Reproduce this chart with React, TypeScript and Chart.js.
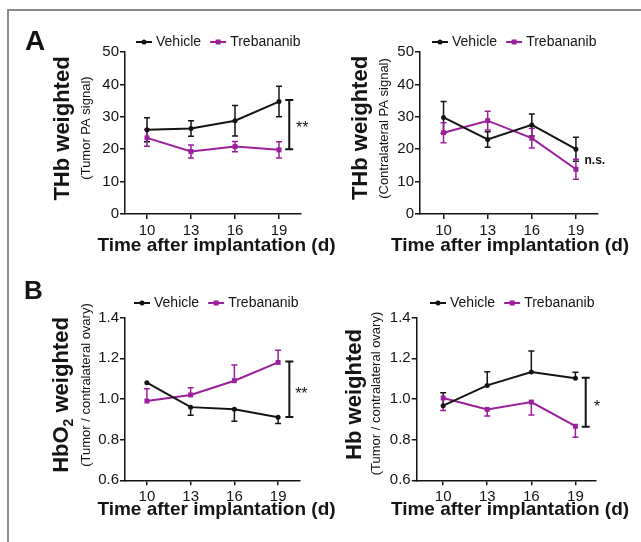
import React, { useEffect, useRef } from "react";
import { Chart, registerables } from "chart.js";
Chart.register(...registerables);

const FONT = '"Liberation Sans", Arial, Helvetica, sans-serif';
const BLACK = "#141414";
const PURPLE = "#9b1f9b";
const W = 641;
const H = 542;

// ---- data ----
const days = [10, 13, 16, 19];
const xTickValues = [10, 13, 16, 19];
const thbTickValues = [0, 10, 20, 30, 40, 50];
const ratioTickValues = [0.6, 0.8, 1.0, 1.2, 1.4];
const seriesNames = ["Vehicle", "Trebananib"];
const xAxisTitle = "Time after implantation (d)";

// A left: THb weighted (Tumor PA signal)
const thbTumorVehicle = [26.0, 26.4, 28.8, 34.7];
const thbTumorVehicleErr = [3.7, 2.4, 4.7, 4.7];
const thbTumorTreb = [23.5, 19.3, 20.8, 19.8];
const thbTumorTrebErr = [2.6, 2.0, 1.6, 2.5];

// A right: THb weighted (Contralateral PA signal)
const thbContraVehicle = [29.8, 23.0, 27.5, 20.0];
const thbContraVehicleErr = [4.9, 2.4, 3.4, 3.7];
const thbContraTreb = [25.1, 28.8, 23.4, 13.8];
const thbContraTrebErr = [3.1, 2.9, 3.0, 3.1];

// B left: HbO2 weighted (Tumor / contralateral ovary)
const hbo2Vehicle = [1.08, 0.96, 0.95, 0.91];
const hbo2VehicleErrDown = [0, 0.04, 0.06, 0.03];
const hbo2Treb = [0.99, 1.02, 1.09, 1.18];
const hbo2TrebErrUp = [0.06, 0.035, 0.077, 0.06];

// B right: Hb weighted (Tumor / contralateral ovary)
const hbVehicle = [0.967, 1.067, 1.133, 1.102];
const hbVehicleErrUp = [0.064, 0.067, 0.103, 0.03];
const hbTreb = [1.005, 0.949, 0.985, 0.866];
const hbTrebErrDown = [0.062, 0.033, 0.064, 0.054];

const zeros = [0, 0, 0, 0];

type Panel = {
  plot: { left: number; top: number; right: number; bottom: number };
  xMin: number;
  xMax: number;
  yTicks: number[];
  yDecimals: number;
  vehicle: number[];
  vehicleUp: number[];
  vehicleDown: number[];
  treb: number[];
  trebUp: number[];
  trebDown: number[];
  yTitle: string[]; // [main, subscript, rest]
  yTitleX: number;
  yTitleY: number;
  ySub: string;
  ySubX: number;
  ySubY: number;
  xTitleX: number;
  xTitleY: number;
  legendX: number;
  legendY: number;
  bracket?: { x: number; y1: number; y2: number };
  mark: { text: string; dx: number; y: number; size: number; bold: boolean; star: boolean };
  panelLabel?: { text: string; x: number; y: number; size: number };
};

const panels: Panel[] = [
  {
    plot: { left: 125, top: 52, right: 301, bottom: 214 },
    xMin: 8.5, xMax: 20.5, yTicks: thbTickValues, yDecimals: 0,
    vehicle: thbTumorVehicle, vehicleUp: thbTumorVehicleErr, vehicleDown: thbTumorVehicleErr,
    treb: thbTumorTreb, trebUp: thbTumorTrebErr, trebDown: thbTumorTrebErr,
    yTitle: ["THb weighted", "", ""], yTitleX: 69, yTitleY: 128.5,
    ySub: "(Tumor PA signal)", ySubX: 89.5, ySubY: 128,
    xTitleX: 216.5, xTitleY: 245.5, legendX: 136, legendY: 42,
    bracket: { x: 19.7, y1: 20, y2: 35.2 },
    mark: { text: "**", dx: 17, y: 27.9, size: 16, bold: false, star: true },
    panelLabel: { text: "A", x: 25, y: 50, size: 28 },
  },
  {
    plot: { left: 420, top: 52, right: 598, bottom: 214 },
    xMin: 8.4, xMax: 20.5, yTicks: thbTickValues, yDecimals: 0,
    vehicle: thbContraVehicle, vehicleUp: thbContraVehicleErr, vehicleDown: thbContraVehicleErr,
    treb: thbContraTreb, trebUp: thbContraTrebErr, trebDown: thbContraTrebErr,
    yTitle: ["THb weighted", "", ""], yTitleX: 367, yTitleY: 128,
    ySub: "(Contralateral PA signal)", ySubX: 388, ySubY: 128.5,
    xTitleX: 510, xTitleY: 245.5, legendX: 432, legendY: 42,
    mark: { text: "n.s.", dx: 8.6, y: 15.4, size: 12, bold: true, star: false },
  },
  {
    plot: { left: 125, top: 317.7, right: 300, bottom: 480.3 },
    xMin: 8.5, xMax: 20.5, yTicks: ratioTickValues, yDecimals: 1,
    vehicle: hbo2Vehicle, vehicleUp: zeros, vehicleDown: hbo2VehicleErrDown,
    treb: hbo2Treb, trebUp: hbo2TrebErrUp, trebDown: zeros,
    yTitle: ["HbO", "2", " weighted"], yTitleX: 68, yTitleY: 395,
    ySub: "(Tumor / contralateral ovary)", ySubX: 89.5, ySubY: 385,
    xTitleX: 216.5, xTitleY: 509.5, legendX: 134, legendY: 303,
    bracket: { x: 19.77, y1: 0.912, y2: 1.184 },
    mark: { text: "**", dx: 17, y: 1.049, size: 16, bold: false, star: true },
    panelLabel: { text: "B", x: 24, y: 299, size: 26 },
  },
  {
    plot: { left: 416.7, top: 317.7, right: 596, bottom: 480.3 },
    xMin: 8.2, xMax: 20.4, yTicks: ratioTickValues, yDecimals: 1,
    vehicle: hbVehicle, vehicleUp: hbVehicleErrUp, vehicleDown: zeros,
    treb: hbTreb, trebUp: zeros, trebDown: hbTrebErrDown,
    yTitle: ["Hb weighted", "", ""], yTitleX: 361, yTitleY: 394.5,
    ySub: "(Tumor / contralateral ovary)", ySubX: 379.5, ySubY: 393.5,
    xTitleX: 510, xTitleY: 509.5, legendX: 430, legendY: 303,
    bracket: { x: 19.7, y1: 0.864, y2: 1.105 },
    mark: { text: "*", dx: 18.5, y: 0.984, size: 16, bold: false, star: true },
  },
];

function makePlugin(p: Panel) {
  return {
    id: "panelDecor",
    beforeDatasetsDraw(chart: any) {
      const ctx = chart.ctx;
      const xs = chart.scales.x;
      const ys = chart.scales.y;
      ctx.save();
      chart.data.datasets.forEach((ds: any) => {
        ctx.strokeStyle = ds.borderColor;
        ctx.lineWidth = 1.5;
        ds.data.forEach((pt: any, i: number) => {
          const px = xs.getPixelForValue(pt.x);
          const py = ys.getPixelForValue(pt.y);
          const up = ds.errUp[i];
          const dn = ds.errDown[i];
          ctx.beginPath();
          if (up > 0) {
            const t = ys.getPixelForValue(pt.y + up);
            ctx.moveTo(px, py);
            ctx.lineTo(px, t);
            ctx.moveTo(px - 3, t);
            ctx.lineTo(px + 3, t);
          }
          if (dn > 0) {
            const b = ys.getPixelForValue(pt.y - dn);
            ctx.moveTo(px, py);
            ctx.lineTo(px, b);
            ctx.moveTo(px - 3, b);
            ctx.lineTo(px + 3, b);
          }
          ctx.stroke();
        });
      });
      ctx.restore();
    },
    afterDraw(chart: any) {
      const ctx = chart.ctx;
      const xs = chart.scales.x;
      const ys = chart.scales.y;
      ctx.save();
      // legend
      ctx.font = `14px ${FONT}`;
      ctx.textBaseline = "middle";
      ctx.textAlign = "left";
      let lx = p.legendX;
      const ly = p.legendY;
      chart.data.datasets.forEach((ds: any, i: number) => {
        ctx.strokeStyle = ds.borderColor;
        ctx.fillStyle = ds.borderColor;
        ctx.lineWidth = 2;
        ctx.beginPath();
        ctx.moveTo(lx, ly);
        ctx.lineTo(lx + 16, ly);
        ctx.stroke();
        if (i === 0) {
          ctx.beginPath();
          ctx.arc(lx + 8, ly, 2.5, 0, Math.PI * 2);
          ctx.fill();
        } else {
          ctx.fillRect(lx + 5.5, ly - 2.5, 5, 5);
        }
        lx += 20;
        ctx.fillStyle = BLACK;
        ctx.fillText(ds.label, lx, ly + 0.5);
        lx += ctx.measureText(ds.label).width + 9;
      });
      // x title
      ctx.fillStyle = BLACK;
      ctx.font = `bold 19px ${FONT}`;
      ctx.textAlign = "center";
      ctx.textBaseline = "middle";
      ctx.fillText(xAxisTitle, p.xTitleX, p.xTitleY);
      // y titles
      ctx.save();
      ctx.translate(p.yTitleX, p.yTitleY);
      ctx.rotate(-Math.PI / 2);
      ctx.textBaseline = "alphabetic";
      ctx.textAlign = "left";
      const mainFont = `bold 22px ${FONT}`;
      const subFont = `bold 14px ${FONT}`;
      ctx.font = mainFont;
      const w1 = ctx.measureText(p.yTitle[0]).width;
      const w3 = ctx.measureText(p.yTitle[2]).width;
      ctx.font = subFont;
      const w2 = p.yTitle[1] ? ctx.measureText(p.yTitle[1]).width : 0;
      let tx = -(w1 + w2 + w3) / 2;
      ctx.font = mainFont;
      ctx.fillText(p.yTitle[0], tx, 0);
      tx += w1;
      if (p.yTitle[1]) {
        ctx.font = subFont;
        ctx.fillText(p.yTitle[1], tx, 5);
        tx += w2;
      }
      if (p.yTitle[2]) {
        ctx.font = mainFont;
        ctx.fillText(p.yTitle[2], tx, 0);
      }
      ctx.restore();
      ctx.save();
      ctx.translate(p.ySubX, p.ySubY);
      ctx.rotate(-Math.PI / 2);
      ctx.textBaseline = "alphabetic";
      ctx.textAlign = "center";
      ctx.font = `13px ${FONT}`;
      ctx.fillText(p.ySub, 0, 0);
      ctx.restore();
      // bracket
      if (p.bracket) {
        const bx = xs.getPixelForValue(p.bracket.x);
        const b1 = ys.getPixelForValue(p.bracket.y1);
        const b2 = ys.getPixelForValue(p.bracket.y2);
        ctx.strokeStyle = BLACK;
        ctx.lineWidth = 2;
        ctx.beginPath();
        ctx.moveTo(bx, b1);
        ctx.lineTo(bx, b2);
        ctx.moveTo(bx - 4, b1);
        ctx.lineTo(bx + 4, b1);
        ctx.moveTo(bx - 4, b2);
        ctx.lineTo(bx + 4, b2);
        ctx.stroke();
      }
      // significance mark
      const m = p.mark;
      const mx = xs.getPixelForValue(19) + m.dx;
      let my = ys.getPixelForValue(m.y);
      if (m.star) my += 0.6 * m.size;
      ctx.font = `${m.bold ? "bold " : ""}${m.size}px ${FONT}`;
      ctx.textAlign = "left";
      ctx.textBaseline = "alphabetic";
      ctx.fillStyle = BLACK;
      ctx.fillText(m.text, mx, my);
      // panel label
      if (p.panelLabel) {
        ctx.font = `bold ${p.panelLabel.size}px ${FONT}`;
        ctx.fillText(p.panelLabel.text, p.panelLabel.x, p.panelLabel.y);
      }
      ctx.restore();
    },
  };
}

function makeConfig(p: Panel): any {
  const xAxisHeight = 45;
  const yAxisWidth = 50;
  const grid = {
    display: true,
    drawOnChartArea: false,
    drawTicks: true,
    tickLength: 5,
    tickWidth: 1.5,
    color: BLACK,
    lineWidth: 1.5,
  };
  const border = { display: true, color: BLACK, width: 1.5 };
  const tickFont = { family: FONT, size: 15 };
  return {
    type: "line",
    data: {
      datasets: [
        {
          label: seriesNames[0],
          data: days.map((d, i) => ({ x: d, y: p.vehicle[i] })),
          borderColor: BLACK,
          backgroundColor: BLACK,
          borderWidth: 2,
          pointStyle: "circle",
          pointRadius: 2.5,
          pointBorderWidth: 0,
          errUp: p.vehicleUp,
          errDown: p.vehicleDown,
          clip: false,
        },
        {
          label: seriesNames[1],
          data: days.map((d, i) => ({ x: d, y: p.treb[i] })),
          borderColor: PURPLE,
          backgroundColor: PURPLE,
          borderWidth: 2,
          pointStyle: "rect",
          pointRadius: 3.5,
          pointBorderWidth: 0,
          errUp: p.trebUp,
          errDown: p.trebDown,
          clip: false,
        },
      ],
    },
    options: {
      responsive: false,
      animation: false,
      devicePixelRatio: 1,
      events: [],
      layout: {
        padding: {
          left: p.plot.left - yAxisWidth,
          top: p.plot.top,
          right: W - p.plot.right,
          bottom: H - p.plot.bottom - xAxisHeight,
        },
      },
      plugins: { legend: { display: false }, tooltip: { enabled: false }, title: { display: false } },
      scales: {
        x: {
          type: "linear",
          min: p.xMin,
          max: p.xMax,
          afterBuildTicks: (s: any) => {
            s.ticks = xTickValues.map((v) => ({ value: v }));
          },
          afterFit: (s: any) => {
            s.height = xAxisHeight;
          },
          grid,
          border,
          ticks: { font: tickFont, color: BLACK, padding: 3, maxRotation: 0, autoSkip: false },
          title: { display: false },
        },
        y: {
          type: "linear",
          min: p.yTicks[0],
          max: p.yTicks[p.yTicks.length - 1],
          afterBuildTicks: (s: any) => {
            s.ticks = p.yTicks.map((v) => ({ value: v }));
          },
          afterFit: (s: any) => {
            s.width = yAxisWidth;
          },
          grid,
          border,
          ticks: {
            font: tickFont,
            color: BLACK,
            padding: 1,
            autoSkip: false,
            callback: (v: any) => Number(v).toFixed(p.yDecimals),
          },
        },
      },
    },
    plugins: [makePlugin(p)],
  };
}

function PanelChart({ panel }: { panel: Panel }) {
  const ref = useRef<HTMLCanvasElement>(null);
  useEffect(() => {
    if (!ref.current) return;
    const chart = new Chart(ref.current, makeConfig(panel));
    return () => chart.destroy();
  }, [panel]);
  return (
    <canvas
      ref={ref}
      width={W}
      height={H}
      style={{ position: "absolute", left: 0, top: 0, width: W, height: H }}
    />
  );
}

export default function App() {
  return (
    <div
      style={{
        position: "fixed",
        left: 0,
        top: 0,
        width: W,
        height: H,
        background: "#ffffff",
        overflow: "hidden",
      }}
    >
      <div style={{ position: "absolute", left: 7, top: 9, width: W - 7, height: 1.5, background: "#8a8a8a" }} />
      <div style={{ position: "absolute", left: 7, top: 9, width: 1.5, height: H - 9, background: "#8a8a8a" }} />
      {panels.map((p, i) => (
        <PanelChart key={i} panel={p} />
      ))}
    </div>
  );
}
